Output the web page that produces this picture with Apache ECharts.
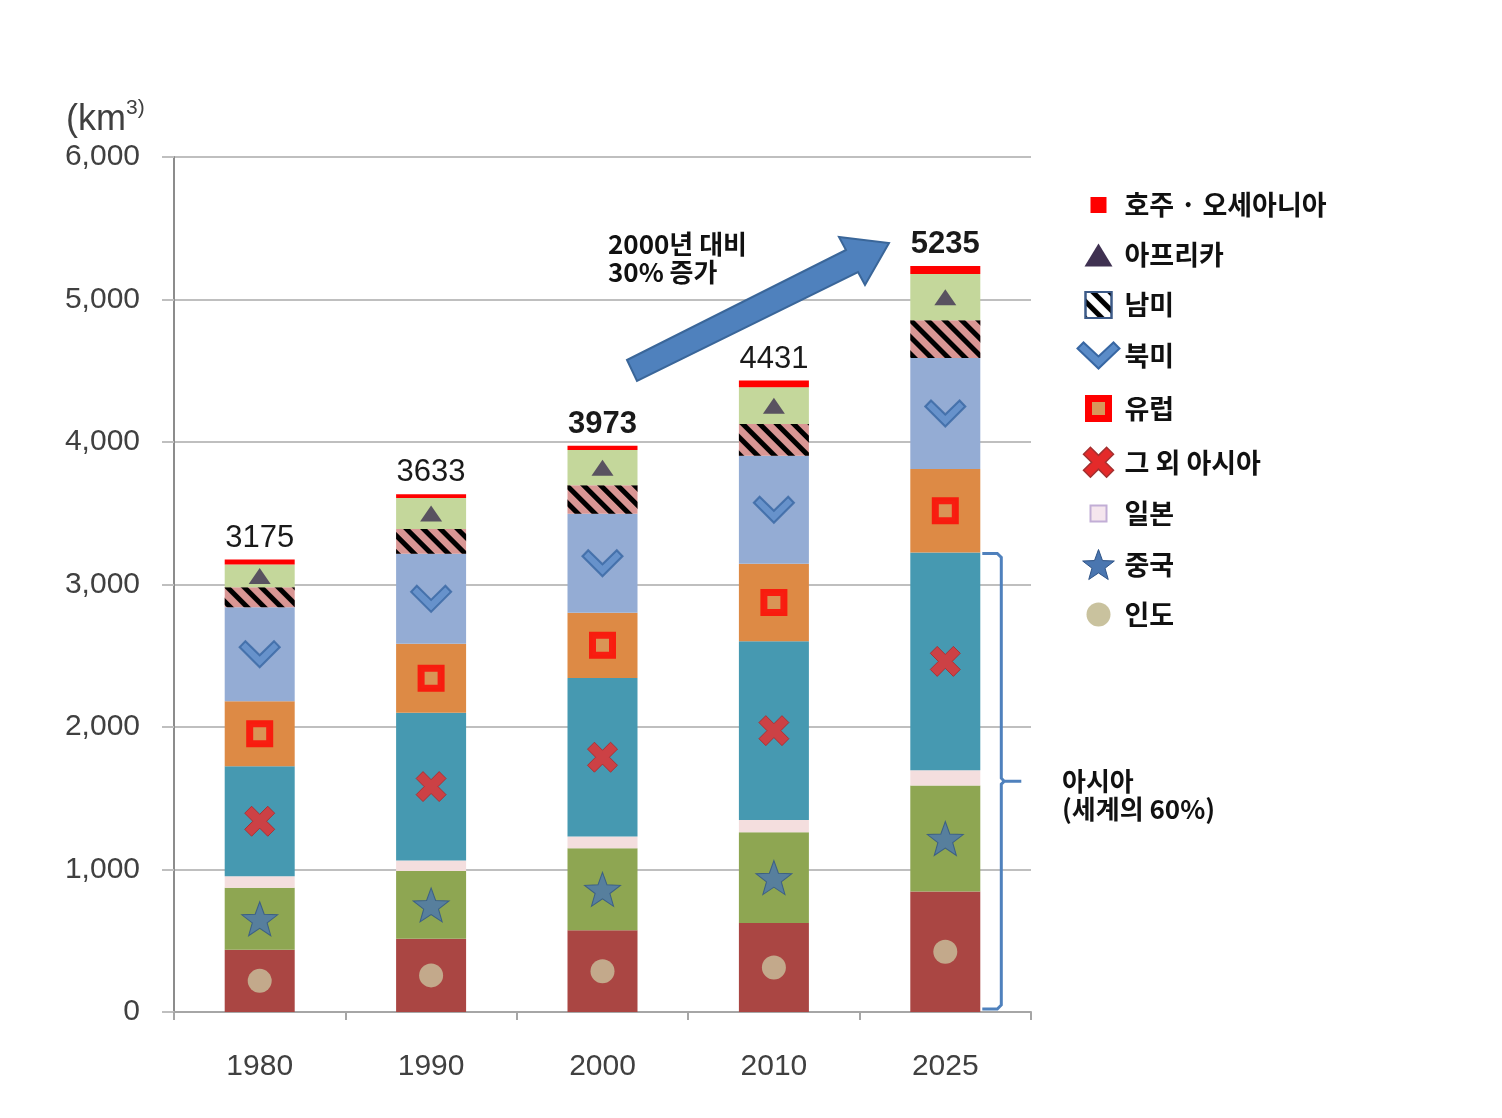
<!DOCTYPE html>
<html><head><meta charset="utf-8">
<script src="https://cdn.jsdelivr.net/npm/echarts@6/dist/echarts.min.js"></script>
<style>html,body{margin:0;padding:0;background:#fff;} #c{width:1502px;height:1118px;}</style>
</head><body><div id="c"></div>
<script>
const years = ['1980', '1990', '2000', '2010', '2025'];
const india = [437, 514, 573, 625, 846];
const china = [435, 475, 576, 636, 743];
const japan = [80, 75, 83, 86, 107];
const otherAsia = [773, 1036, 1112, 1255, 1529];
const europe = [456, 484, 458, 544, 586];
const northAmerica = [660, 631, 694, 757, 778];
const southAmerica = [140, 175, 200, 223, 265];
const africa = [159, 217, 247, 258, 325];
const oceania = [35, 26, 30, 47, 56];
const totals = [3175, 3633, 3973, 4431, 5235];
const boldTotals = [false, false, true, false, true];
const yTickLabels = ['0', '1,000', '2,000', '3,000', '4,000', '5,000', '6,000'];
const names = ['인도', '중국', '일본', '그 외 아시아', '유럽', '북미', '남미', '아프리카', '호주 · 오세아니아'];

const stackOrder = [india, china, japan, otherAsia, europe, northAmerica, southAmerica, africa, oceania];
const colors = ['#AA4643', '#8EA652', '#F4DEDE', '#4699B1', '#DD8A45', '#94ACD4', '#D99694', '#C4D79B', '#FF0000'];

function midpoints(k) {
  return years.map((y, i) => {
    let b = 0;
    for (let j = 0; j < k; j++) b += stackOrder[j][i];
    return [y, b + stackOrder[k][i] / 2];
  });
}

const starPath = 'path://M21,1L24.6,11L35.3,11.4L26.9,17.9L29.8,28.1L21,22.2L12.2,28.1L15.1,17.9L6.7,11.4L17.4,11Z';
const chevronPath = 'path://M0,8L6,2L21,16L36,2L42,8L21,28Z';
const xPath = 'path://M8,8L14,2L21,9L28,2L34,8L27,15L34,22L28,28L21,21L14,28L8,22L15,15Z';

const hatch = { symbol: 'rect', symbolSize: 1, color: '#000', dashArrayX: [1, 0], dashArrayY: [5, 7], rotation: Math.PI / 4 };

const barSeries = names.map((n, k) => {
  const s = {
    name: n, type: 'bar', stack: 'total', barWidth: 70,
    itemStyle: { color: colors[k] },
    data: stackOrder[k].slice()
  };
  if (k === 6) s.itemStyle.decal = hatch;
  if (k === 8) {
    s.data = oceania.map((v, i) => ({ value: v, label: { fontWeight: boldTotals[i] ? 'bold' : 'normal' } }));
    s.label = {
      show: true, position: 'top', distance: 6,
      formatter: p => String(totals[p.dataIndex]),
      fontSize: 31, color: '#1a1a1a', fontFamily: '"Liberation Sans", Arial, sans-serif'
    };
  }
  return s;
});

const markerDefs = [
  { k: 0, symbol: 'circle', size: 24, style: { color: '#C9C29E' } },
  { k: 1, symbol: starPath, size: [36, 34], style: { color: '#4A76B0', borderColor: '#2F5487', borderWidth: 1 } },
  { k: 3, symbol: xPath, size: [30, 30], style: { color: '#EE2A2A', borderColor: '#B02525', borderWidth: 1 } },
  { k: 4, symbol: 'rect', size: 20, style: { color: '#D8975A', borderColor: '#FF0000', borderWidth: 7 } },
  { k: 5, symbol: chevronPath, size: [40, 26], style: { color: '#5B8CC8', borderColor: '#3867A3', borderWidth: 2 } },
  { k: 7, symbol: 'triangle', size: [22, 16], style: { color: '#3F3151' } }
];
const markerSeries = markerDefs.map(d => ({
  name: '_m' + d.k, type: 'scatter', silent: true, z: 5,
  symbol: d.symbol, symbolSize: d.size, itemStyle: d.style,
  data: midpoints(d.k)
}));

const B = 'M0,0M42,30';
const legendData = [
  { name: names[8], icon: 'path://' + B + 'M13,7h16v16h-16z', itemStyle: { color: '#FF0000', borderWidth: 0 } },
  { name: names[7], icon: 'path://' + B + 'M21,4L35,27H7Z', itemStyle: { color: '#3F3151', borderWidth: 0 } },
  { name: names[6], icon: 'path://' + B + 'M8,2h26v26h-26z', itemStyle: { color: '#FFFFFF', borderColor: '#3C5A88', borderWidth: 2 } },
  { name: names[5], icon: 'path://' + chevronPath.slice(7), itemStyle: { color: '#5B8CC8', borderColor: '#3867A3', borderWidth: 2 } },
  { name: names[4], icon: 'path://' + B + 'M11,5h20v20h-20z', itemStyle: { color: '#D8975A', borderColor: '#FF0000', borderWidth: 7 } },
  { name: names[3], icon: xPath, itemStyle: { color: '#E42A2A', borderColor: '#A33030', borderWidth: 1.5 } },
  { name: names[2], icon: 'path://' + B + 'M13,7h16v16h-16z', itemStyle: { color: '#F5E6EE', borderColor: '#C2AED6', borderWidth: 2 } },
  { name: names[1], icon: starPath, itemStyle: { color: '#4A76B0', borderColor: '#2F5487', borderWidth: 1 } },
  { name: names[0], icon: 'path://' + B + 'M9,15a12,12 0 1,0 24,0a12,12 0 1,0 -24,0Z', itemStyle: { color: '#C9C29E', borderWidth: 0 } }
];

const chart = echarts.init(document.getElementById('c'));
const axisFont = '"Liberation Sans", Arial, sans-serif';
const krFont = '"Noto Sans CJK KR", sans-serif';
chart.setOption({
  animation: false,
  backgroundColor: '#fff',
  grid: { left: 174, right: 471, top: 157, bottom: 106, containLabel: false, outerBoundsMode: 'none' },
  legend: {
    orient: 'vertical', left: 1074, top: 190, padding: 0,
    itemWidth: 42, itemHeight: 30, itemGap: 19.5, itemTextGap: 11,
    selectedMode: false,
    textStyle: { fontSize: 27, lineHeight: 30, fontWeight: 'bold', color: '#111', fontFamily: krFont },
    data: legendData
  },
  xAxis: {
    type: 'category', data: years,
    axisLine: { lineStyle: { color: '#A6A6A6', width: 2 } },
    axisTick: { show: true, length: 8, lineStyle: { color: '#A6A6A6', width: 2 } },
    axisLabel: { fontSize: 30, color: '#404040', margin: 40, fontFamily: axisFont }
  },
  yAxis: {
    type: 'value', min: 0, max: 6000, interval: 1000,
    axisLine: { show: true, lineStyle: { color: '#8C8C8C', width: 2 } },
    axisTick: { show: true, length: 12, lineStyle: { color: '#BFBFBF', width: 2 } },
    splitLine: { lineStyle: { color: '#BFBFBF', width: 2 } },
    axisLabel: { fontSize: 30, color: '#404040', margin: 34, fontFamily: axisFont, formatter: v => yTickLabels[Math.round(v / 1000)] }
  },
  series: barSeries.concat(markerSeries)
});

// annotations
const asiaTop = india[4] + china[4] + japan[4] + otherAsia[4];
const pTop = chart.convertToPixel({ gridIndex: 0 }, [years[4], asiaTop]);
const pBot = chart.convertToPixel({ gridIndex: 0 }, [years[4], 0]);
const bx = pTop[0] + 56, bl = pTop[0] + 37;
const yT = pTop[1] + 1, yB = pBot[1] - 3, yM = (yT + yB) / 2;

chart.setOption({
  graphic: [
    {
      type: 'text', left: 66, top: 98,
      style: {
        text: '{a|(km}{b|3)}', fill: '#404040',
        rich: {
          a: { fontSize: 36, fontFamily: axisFont, fill: '#404040', lineHeight: 44 },
          b: { fontSize: 21, fontFamily: axisFont, fill: '#404040', verticalAlign: 'top', lineHeight: 44, padding: [0, 0, 16, 0] }
        }
      }
    },
    {
      type: 'polygon', z: 10,
      shape: { points: [[627, 360], [846, 250], [839, 237], [889, 243], [865, 285], [858, 272], [637, 381]] },
      style: { fill: '#4F81BD', stroke: '#3A6699', lineWidth: 2 }
    },
    {
      type: 'text', left: 608, top: 230, z: 10,
      style: { text: '2000년 대비\n30% 증가', fontSize: 26, fontWeight: 'bold', fontFamily: krFont, fill: '#111', lineHeight: 28 }
    },
    {
      type: 'polyline', z: 10,
      shape: { points: [[bl, yT], [bx - 4, yT], [bx, yT + 4], [bx, yM - 3], [bx + 3, yM], [bx + 20, yM], [bx + 3, yM], [bx, yM + 3], [bx, yB - 4], [bx - 4, yB], [bl, yB]] },
      style: { stroke: '#4F81BD', lineWidth: 3, fill: null }
    },
    {
      type: 'text', left: 1062, top: 767, z: 10,
      style: { text: '아시아\n(세계의 60%)', fontSize: 26, fontWeight: 'bold', fontFamily: krFont, fill: '#111', lineHeight: 28 }
    }
  ]
});
</script>
</body></html>
